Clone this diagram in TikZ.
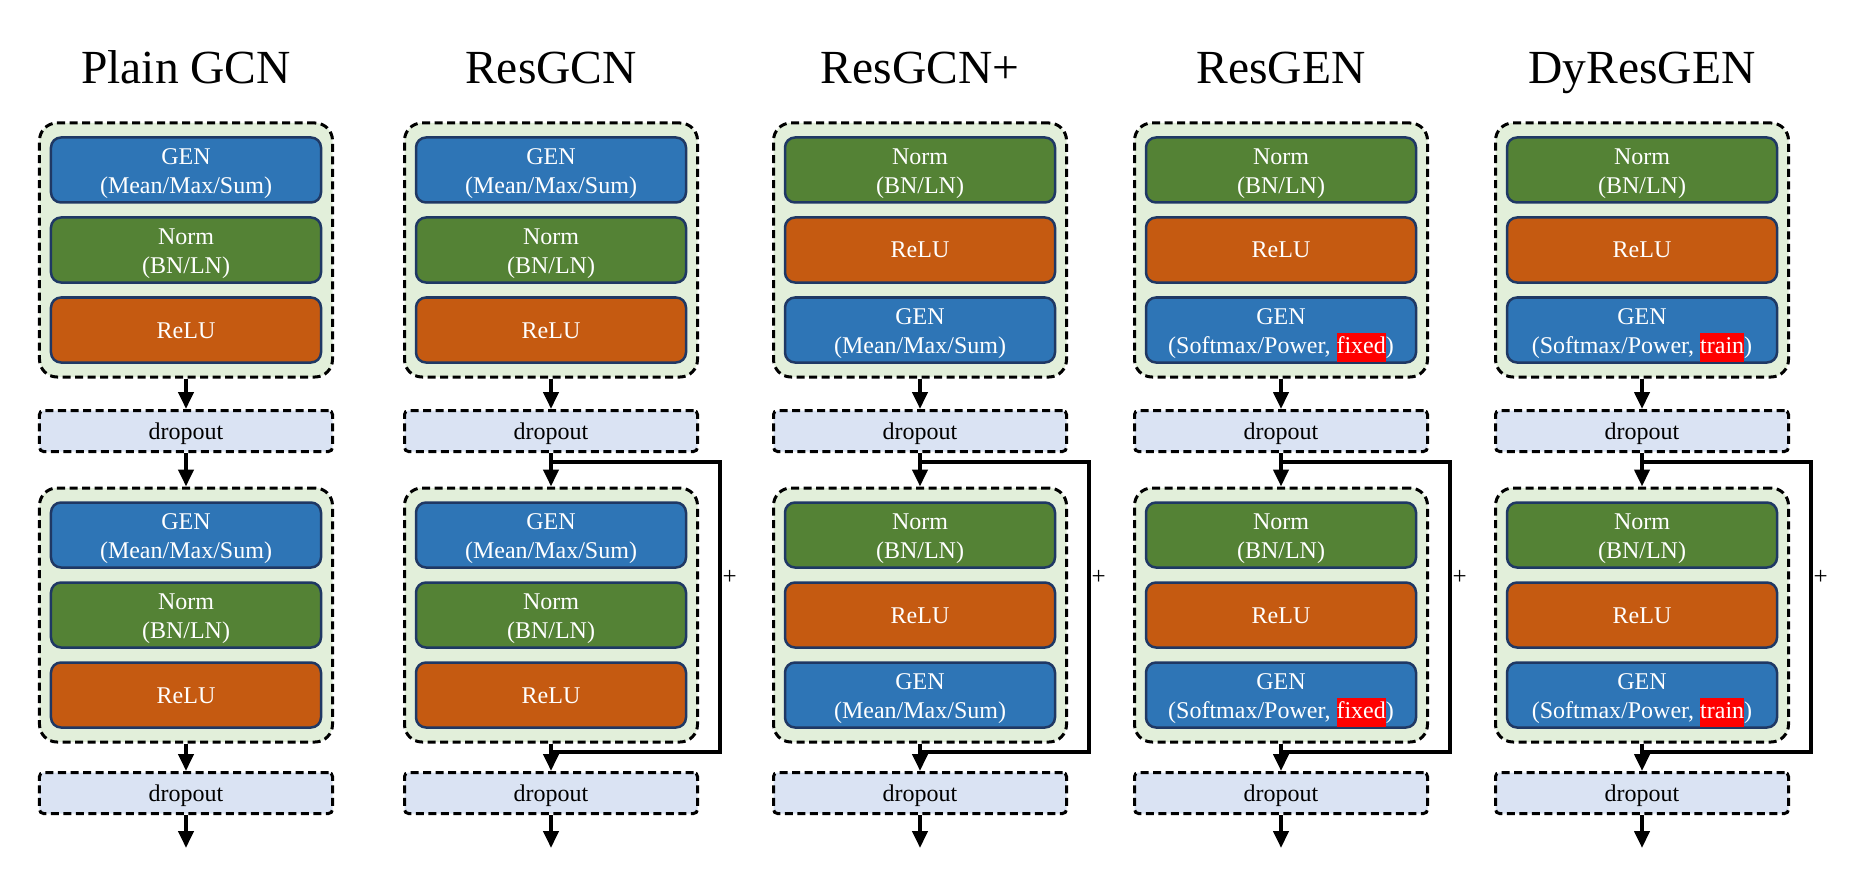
\documentclass[tikz,border=0pt]{standalone}
\usepackage{fontspec}
\setmainfont{Liberation Serif}
\usetikzlibrary{arrows.meta}
\definecolor{genblue}{HTML}{2E75B6}
\definecolor{normgreen}{HTML}{548235}
\definecolor{reluorange}{HTML}{C55A11}
\definecolor{navyline}{HTML}{1F3864}
\definecolor{blockfill}{HTML}{E2EFDA}
\definecolor{dropfill}{HTML}{DAE3F3}
\definecolor{hlred}{HTML}{FF0000}
\newcommand{\redmark}[1]{{\setlength{\fboxsep}{0pt}\colorbox{hlred}{\strut #1}}}
\newcommand{\boxfont}{\fontsize{9.6}{11.48}\selectfont}
% two-line text block of fixed height 26pt, first baseline 10.74pt below its top
\newcommand{\twolines}[2]{\parbox[c][26pt][t]{108pt}{\centering\vspace*{2.7pt}\strut #1\\\strut #2}}
\tikzset{
  inbox/.style={draw=navyline, line width=1pt, rounded corners=4pt,
    minimum width=108pt, minimum height=26pt, text=white, align=center,
    inner sep=0pt, font=\boxfont},
  onebox/.style={text height=6.8pt, text depth=0.4pt},
  genbox/.style={inbox, fill=genblue},
  normbox/.style={inbox, fill=normgreen},
  relubox/.style={inbox, onebox, fill=reluorange},
  blockbox/.style={draw=black, fill=blockfill, line width=1.2pt,
    dash pattern=on 3.2pt off 1.8pt, rounded corners=7pt,
    minimum width=117.2pt, minimum height=101.6pt, inner sep=0pt},
  dropbox/.style={draw=black, fill=dropfill, line width=1.2pt, onebox,
    dash pattern=on 3.2pt off 1.8pt, rounded corners=1.6pt,
    minimum width=117.2pt, minimum height=16.4pt, inner sep=0pt, font=\boxfont},
  titlenode/.style={anchor=base, inner sep=0pt, font=\fontsize{19}{23}\selectfont},
  arr/.style={line width=1.6pt, -{Triangle[length=6.8pt,width=6pt]}},
  skipline/.style={line width=1.6pt, line join=miter},
  plusnode/.style={anchor=west, inner sep=0pt, font=\fontsize{10}{12}\selectfont}
}
\newcommand{\mkGENmean}[3]{\node[genbox] (#1) at (#2,#3) {\twolines{GEN}{(Mean/Max/Sum)}};}
\newcommand{\mkNorm}[3]{\node[normbox] (#1) at (#2,#3) {\twolines{Norm}{(BN/LN)}};}
\newcommand{\mkReLU}[3]{\node[relubox] (#1) at (#2,#3) {ReLU};}
\newcommand{\mkGENfix}[3]{\node[genbox] (#1) at (#2,#3) {\twolines{GEN}{(Softmax/Power, \redmark{fixed})}};}
\newcommand{\mkGENtrain}[3]{\node[genbox] (#1) at (#2,#3) {\twolines{GEN}{(Softmax/Power, \redmark{train})}};}
% #1 id, #2 center x, #3 title, #4 #5 #6 box makers
\newcommand{\gcncol}[6]{%
  \node[titlenode] (t#1) at (#2,84) {#3};
  \foreach \b/\dy in {1/0,2/365}{%
    \node[blockbox] (b#1-\b) at (#2,250+\dy) {};
    #4{a#1-\b}{#2}{170+\dy}
    #5{m#1-\b}{#2}{250+\dy}
    #6{c#1-\b}{#2}{330+\dy}
  }
  \node[dropbox] (d#1-1) at (#2,431) {dropout};
  \node[dropbox] (d#1-2) at (#2,793) {dropout};
  \coordinate (e#1) at (#2,848);
  \draw[arr] (b#1-1.south) -- (d#1-1.north);
  \draw[arr] (d#1-1.south) -- (b#1-2.north);
  \draw[arr] (b#1-2.south) -- (d#1-2.north);
  \draw[arr] (d#1-2.south) -- (e#1);
}
\newcommand{\skipconn}[2]{%
  \coordinate (sa#1) at (#2,462);
  \coordinate (sb#1) at (#2,752);
  \coordinate (sr#1) at (#2+169,462);
  \coordinate (sq#1) at (#2+169,752);
  \draw[skipline] (sa#1) -- (sr#1) -- (sq#1) -- (sb#1);
  \node[plusnode] (p#1) at (#2+171,577) {+};
}
\begin{document}
\begin{tikzpicture}[x=0.4pt,y=-0.4pt]
\useasboundingbox (0,0) rectangle (1850,872);
\gcncol{1}{186}{Plain GCN}{\mkGENmean}{\mkNorm}{\mkReLU}
\gcncol{2}{551}{ResGCN}{\mkGENmean}{\mkNorm}{\mkReLU}
\gcncol{3}{920}{ResGCN+}{\mkNorm}{\mkReLU}{\mkGENmean}
\gcncol{4}{1281}{ResGEN}{\mkNorm}{\mkReLU}{\mkGENfix}
\gcncol{5}{1642}{DyResGEN}{\mkNorm}{\mkReLU}{\mkGENtrain}
\skipconn{2}{551}
\skipconn{3}{920}
\skipconn{4}{1281}
\skipconn{5}{1642}
\end{tikzpicture}
\end{document}
